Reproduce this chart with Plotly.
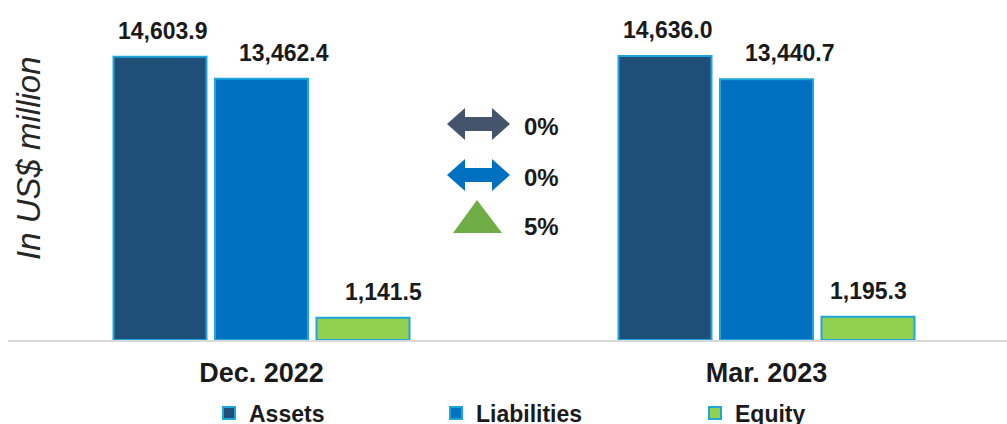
import plotly.graph_objects as go

categories = ["Dec. 2022", "Mar. 2023"]
assets = [14603.9, 14636.0]
liabilities = [13462.4, 13440.7]
equity = [1141.5, 1195.3]
series_names = ["Assets", "Liabilities", "Equity"]
changes = ["0%", "0%", "5%"]

W, H = 1007, 424
ML, MR, MT, MB = 8, 0, 0, 84
PW, PH = W - ML - MR, H - MT - MB

def px(x):
    return (x - ML) / PW

def py(y):
    return 1 - (y - MT) / PH

colors = ["#1f4e79", "#0070c0", "#92d050"]
outline = "#1ea5d9"
FONT = "Liberation Sans, Arial, sans-serif"

unit = 505.0           # px per category
slot = 101.5 / unit    # slot width per bar
bw = 93 / unit         # bar width
xpos = [0, 1]

fig = go.Figure()
all_vals = [assets, liabilities, equity]
legend_ids = ["legend", "legend2", "legend3"]
for k, (name, vals) in enumerate(zip(series_names, all_vals)):
    fig.add_trace(go.Bar(
        x=xpos, y=vals, name=name,
        width=[bw] * len(vals),
        offset=[(k - 1) * slot - bw / 2] * len(vals),
        marker=dict(color=colors[k], line=dict(color=outline, width=2)),
        legend=legend_ids[k],
        showlegend=True,
    ))

# value labels (per-label horizontal nudges as seen in the reference)
label_shift = [[3, 22, 20], [3, 23, 0]]
ann = []
for k, vals in enumerate(all_vals):
    for i, v in enumerate(vals):
        ann.append(dict(
            x=xpos[i] + (k - 1) * slot, y=v, xref="x", yref="y",
            text=f"<b>{v:,.1f}</b>", showarrow=False,
            xanchor="center", yanchor="middle", yshift=26,
            xshift=label_shift[i][k],
            font=dict(family=FONT, size=23, color="#1a1a1a"),
        ))

# y axis title
ann.append(dict(
    x=px(28), y=py(158), xref="paper", yref="paper",
    text="<i>In US$ million</i>", textangle=-90, showarrow=False,
    xanchor="center", yanchor="middle",
    font=dict(family=FONT, size=33, color="#262626"),
))

# change indicators text
for t, yc in zip(changes, [126, 177, 226]):
    ann.append(dict(
        x=px(541), y=py(yc), xref="paper", yref="paper",
        text=f"<b>{t}</b>", showarrow=False,
        xanchor="center", yanchor="middle",
        font=dict(family=FONT, size=24, color="#1a1a1a"),
    ))

def dbl_arrow(xl, xr, yc, head, hh, sh):
    pts = [(xl, yc), (xl + head, yc - hh), (xl + head, yc - sh), (xr - head, yc - sh),
           (xr - head, yc - hh), (xr, yc), (xr - head, yc + hh), (xr - head, yc + sh),
           (xl + head, yc + sh), (xl + head, yc + hh)]
    return "M " + " L ".join(f"{px(a):.5f},{py(b):.5f}" for a, b in pts) + " Z"

shapes = [
    dict(type="path", xref="paper", yref="paper",
         path=dbl_arrow(447, 510, 124, 18, 16, 7),
         fillcolor="#44546a", line=dict(width=0)),
    dict(type="path", xref="paper", yref="paper",
         path=dbl_arrow(447, 510, 175, 18, 16, 7),
         fillcolor="#0070c0", line=dict(width=0)),
    dict(type="path", xref="paper", yref="paper",
         path=f"M {px(477):.5f},{py(200):.5f} L {px(502):.5f},{py(233):.5f} L {px(453):.5f},{py(233):.5f} Z",
         fillcolor="#70ad47", line=dict(width=0)),
]

leg_common = dict(orientation="h", xanchor="left", yanchor="middle",
                  bgcolor="rgba(0,0,0,0)", borderwidth=0,
                  font=dict(family=FONT, size=23, color="#1a1a1a"))
leg_x = [234, 461, 720]
legends = {}
for lid, cx in zip(legend_ids, leg_x):
    legends[lid] = dict(leg_common, x=px(cx - 25), y=py(413))

fig.update_layout(
    width=W, height=H,
    margin=dict(l=ML, r=MR, t=MT, b=MB, autoexpand=False),
    paper_bgcolor="white", plot_bgcolor="white",
    barmode="overlay",
    xaxis=dict(range=[-(261.5 - ML) / unit, 1 + (W - 766.5) / unit],
               tickvals=xpos, ticktext=[f"<b>{c}</b>" for c in categories],
               showline=True, linecolor="#d9d9d9", linewidth=2,
               showgrid=False, zeroline=False, ticks="",
               ticklabelstandoff=8,
               tickfont=dict(family=FONT, size=27, color="#1a1a1a")),
    yaxis=dict(range=[0, PH / 0.0194], visible=False),
    annotations=ann,
    shapes=shapes,
    **legends,
)
for lid in ["legend", "legend2", "legend3"]:
    fig.layout[lid].font.weight = "bold"

fig.write_html("out.html")
